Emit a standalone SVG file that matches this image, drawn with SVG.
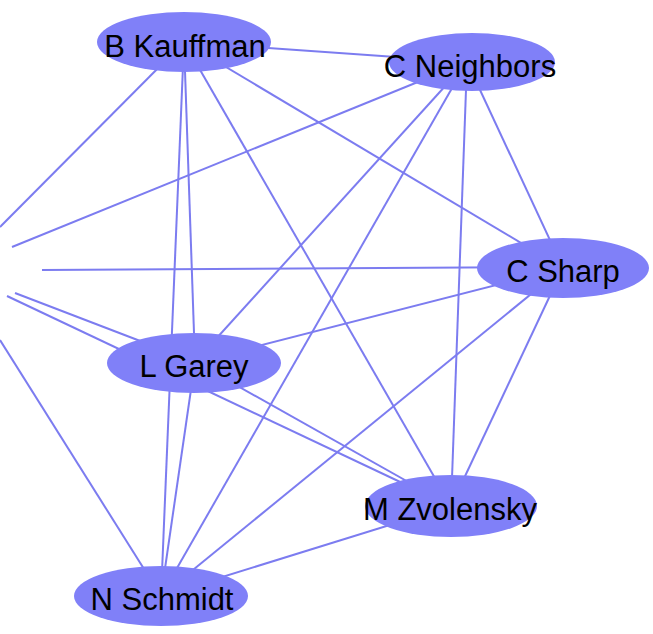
<svg xmlns="http://www.w3.org/2000/svg" width="653" height="634" viewBox="0 0 653 634">
<style>
.e{stroke:#7c7cf0;stroke-width:2;fill:none}
.n{fill:#8080f8;stroke:none}
.t{font-family:"Liberation Sans",Arial,sans-serif;font-size:31px;fill:#000;text-anchor:middle}
</style>
<rect width="653" height="634" fill="#fff"/>
<g id="edges">
<line class="e" x1="184" y1="42" x2="467" y2="62"/>
<line class="e" x1="184" y1="42" x2="563" y2="268"/>
<line class="e" x1="184" y1="42" x2="195" y2="362"/>
<line class="e" x1="184" y1="42" x2="451" y2="506"/>
<line class="e" x1="184" y1="42" x2="161" y2="596"/>
<line class="e" x1="184" y1="42" x2="0" y2="227"/>
<line class="e" x1="467" y1="62" x2="563" y2="268"/>
<line class="e" x1="467" y1="62" x2="195" y2="362"/>
<line class="e" x1="467" y1="62" x2="451" y2="506"/>
<line class="e" x1="467" y1="62" x2="161" y2="596"/>
<line class="e" x1="467" y1="62" x2="12" y2="247"/>
<line class="e" x1="563" y1="268" x2="195" y2="362"/>
<line class="e" x1="563" y1="268" x2="451" y2="506"/>
<line class="e" x1="563" y1="268" x2="161" y2="596"/>
<line class="e" x1="563" y1="267" x2="42" y2="270"/>
<line class="e" x1="195" y1="362" x2="451" y2="506"/>
<line class="e" x1="195" y1="362" x2="161" y2="596"/>
<line class="e" x1="195" y1="362" x2="15" y2="293"/>
<line class="e" x1="451" y1="506" x2="161" y2="596"/>
<line class="e" x1="451" y1="506" x2="7" y2="296"/>
<line class="e" x1="161" y1="596" x2="0" y2="340"/>
</g>
<g id="n-bkauffman"><ellipse class="n" cx="184" cy="42" rx="87" ry="30"/><text class="t" x="185" y="57">B Kauffman</text></g>
<g id="n-cneighbors"><ellipse class="n" cx="472" cy="62" rx="83" ry="29"/><text class="t" x="470" y="77">C Neighbors</text></g>
<g id="n-csharp"><ellipse class="n" cx="563" cy="268" rx="86" ry="30"/><text class="t" x="563" y="282">C Sharp</text></g>
<g id="n-lgarey"><ellipse class="n" cx="194" cy="363" rx="87" ry="30"/><text class="t" x="194" y="377">L Garey</text></g>
<g id="n-mzvolensky"><ellipse class="n" cx="451" cy="506" rx="86" ry="31"/><text class="t" x="450" y="520">M Zvolensky</text></g>
<g id="n-nschmidt"><ellipse class="n" cx="161" cy="596" rx="87" ry="30"/><text class="t" x="162" y="610">N Schmidt</text></g>
</svg>
